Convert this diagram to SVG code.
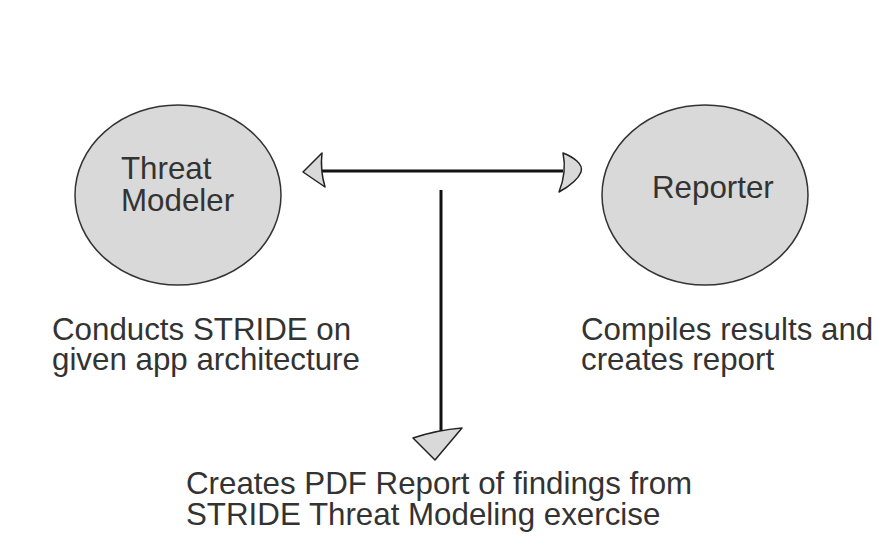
<svg xmlns="http://www.w3.org/2000/svg" width="886" height="548" viewBox="0 0 886 548">
<style>
.node{fill:#d9d9d9;stroke:#333;stroke-width:1.5}
.t{font-family:"Liberation Sans",Arial,sans-serif;font-size:31.3px;fill:#333}
.ln{stroke:#111;stroke-width:3;fill:none}
.hd{fill:#d9d9d9;stroke:#222;stroke-width:1.5;stroke-linejoin:round}
</style>
<rect width="886" height="548" fill="#fff"/>
<g id="threat-modeler">
<ellipse class="node" cx="178" cy="195" rx="103" ry="90"/>
<text class="t"><tspan x="121" y="179">Threat</tspan><tspan x="121" y="211">Modeler</tspan></text>
</g>
<g id="reporter">
<ellipse class="node" cx="705" cy="195" rx="103" ry="90"/>
<text class="t" x="652" y="198">Reporter</text>
</g>
<g id="labels">
<text class="t"><tspan x="52" y="340">Conducts STRIDE on</tspan><tspan x="52" y="370">given app architecture</tspan></text>
<text class="t"><tspan x="581" y="340">Compiles results and</tspan><tspan x="581" y="370">creates report</tspan></text>
<text class="t"><tspan x="186" y="494">Creates PDF Report of findings from</tspan><tspan x="186" y="525">STRIDE Threat Modeling exercise</tspan></text>
</g>
<g id="connectors">
<line class="ln" x1="322" y1="171" x2="563" y2="171"/>
<path class="hd" d="M322,153 L303,172 L325,187 Q320,170 322,153 Z"/>
<path class="hd" d="M563,153 C573,157 584,164 581,172 C578,180 568,187 559,192 Q567,172 563,153 Z"/>
<line class="ln" x1="441" y1="190" x2="441" y2="433"/>
<path class="hd" d="M413,438 L435,460 L462,428 Q437,430 413,438 Z"/>
</g>
</svg>
